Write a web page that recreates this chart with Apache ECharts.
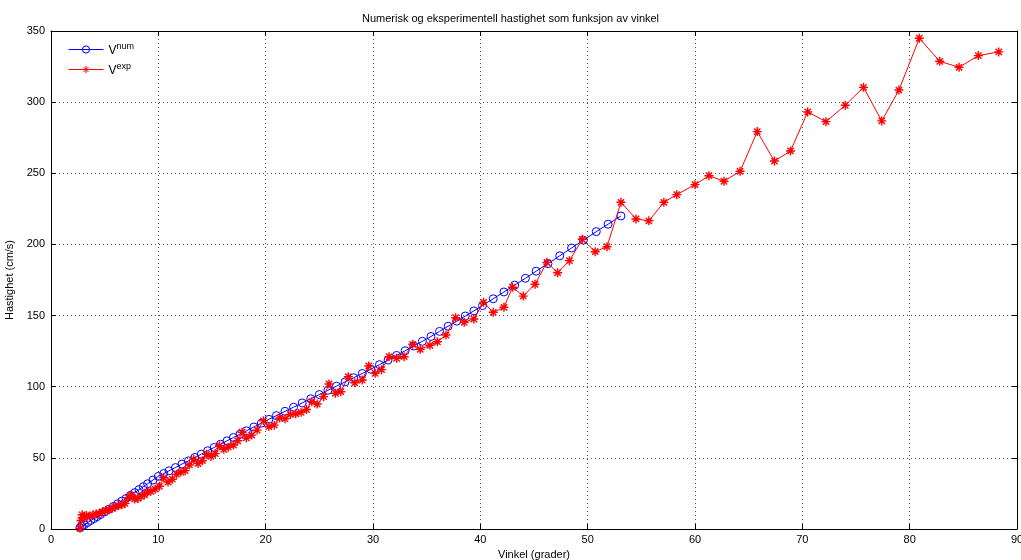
<!DOCTYPE html>
<html>
<head>
<meta charset="utf-8">
<script src="https://cdn.jsdelivr.net/npm/echarts@6/dist/echarts.min.js"></script>
<style>
	html, body { margin: 0; padding: 0; background: #fff; overflow: hidden; }
	#chart { width: 1021px; height: 560px; }
</style>
</head>
<body>
<div id="chart"></div>
<script>
var titleText = 'Numerisk og eksperimentell hastighet som funksjon av vinkel';
var xName = 'Vinkel (grader)';
var yName = 'Hastighet (cm/s)';

// numerisk (blå sirkler)
var numAngle = [2.7, 2.9, 3.1, 3.4, 3.7, 4.0, 4.3, 4.6, 5.0, 5.4, 5.8, 6.2, 6.6, 7.0, 7.4, 7.8, 8.2, 8.6, 9.0, 9.5,
	10.0, 10.5, 11.0, 11.6, 12.2, 12.8, 13.4, 14.0, 14.6, 15.2, 15.8, 16.4, 17.0, 17.6, 18.2, 18.9, 19.6, 20.3,
	21.0, 21.8, 22.6, 23.4, 24.2, 25.0, 25.8, 26.6, 27.4, 28.2, 29.0, 29.8, 30.6, 31.4, 32.2, 33.0, 33.8, 34.6,
	35.4, 36.2, 37.0, 37.8, 38.6, 39.4, 40.2, 41.2, 42.2, 43.2, 44.2, 45.2, 46.3, 47.4, 48.5, 49.6, 50.8, 51.9, 53.1];
var numSpeed = [1, 2, 3, 4.5, 6, 7.3, 8.7, 10.1, 12, 13.9, 15.8, 17.7, 19.6, 21.5, 23.6, 25.6, 27.7, 29.8, 31.8, 34.4,
	37, 39, 40.9, 43.2, 45.6, 47.9, 50.3, 52.6, 55, 57.3, 59.6, 62, 64.3, 66.6, 69, 71.7, 74.4, 77.1,
	79.7, 82.7, 85.6, 88.6, 91.5, 94.5, 97.5, 100.4, 103.4, 106.3, 109.3, 112.3, 115.5, 118.7, 122, 125.3, 128.6, 131.9,
	135.3, 138.9, 142.5, 146.1, 149.7, 153.3, 157, 161.8, 166.6, 171.4, 176.2, 181.2, 186.5, 192, 197.5, 203, 209, 214.2, 220];

// eksperimentell (røde stjerner)
var expAngle = [2.7, 2.8, 2.9, 3.1, 3.3, 3.6, 3.9, 4.2, 4.5, 4.8, 5.1, 5.4, 5.7, 6.0, 6.3, 6.6, 6.9, 7.2, 7.5, 7.8,
	8.1, 8.4, 8.7, 9.0, 9.3, 9.7, 10.1, 10.5, 10.9, 11.3, 11.7, 12.1, 12.5, 12.9, 13.3, 13.7, 14.1, 14.5, 14.9,
	15.3, 15.7, 16.1, 16.5, 17.0, 17.4, 17.8, 18.2, 18.7, 19.2, 19.8, 20.3, 20.8, 21.3, 21.8, 22.3, 22.8, 23.3,
	23.8, 24.3, 24.8, 25.4, 25.9, 26.5, 27.0, 27.7, 28.3, 29.0, 29.6, 30.2, 30.8, 31.5, 32.2, 32.9, 33.7, 34.4,
	35.3, 36.0, 36.8, 37.7, 38.5, 39.4, 40.3, 41.2, 42.2, 43.0, 44.0, 45.1, 46.2, 47.2, 48.3, 49.5, 50.7, 51.8,
	53.1, 54.5, 55.7, 57.1, 58.3, 60.0, 61.3, 62.7, 64.2, 65.8, 67.4, 68.9, 70.5, 72.2, 74.0, 75.7, 77.4, 79.0,
	80.9, 82.8, 84.6, 86.4, 88.3];
var expSpeed = [0.5, 6, 10, 8, 9.5, 9, 10, 10.5, 11, 12, 13, 13.5, 14.5, 15.5, 16.5, 17, 18, 22, 24, 21,
	21.5, 23, 24, 26, 26.5, 28, 30, 36, 33, 35, 38.5, 40, 41, 45, 49, 46, 48, 52.5, 51,
	53, 58.5, 56, 57.5, 59, 62, 68, 64, 66, 69.5, 76, 72, 73, 78, 77.5, 80.5, 81, 82,
	84, 89.5, 87.8, 93, 101.9, 95.4, 96.5, 107, 102.8, 104.7, 114.6, 109.4, 112, 121.1, 120, 121.1, 129.8, 126.3,
	129.1, 131.6, 136.3, 148.5, 145.3, 147.6, 159.3, 152.3, 155.8, 169.9, 163.7, 172, 187.4, 180.1, 188.6, 203.6, 194.9, 198.4,
	229.6, 217.9, 216.6, 229.6, 235, 242, 248.3, 244.4, 251.4, 279.3, 258.6, 265.7, 293.1, 286.3, 297.8, 310.4, 286.8, 308.5,
	344.9, 328.7, 324.5, 332.7, 335.3];

var starPath = 'path://M5 0L5 10M0 5L10 5M1.5 1.5L8.5 8.5M1.5 8.5L8.5 1.5';

function pairs(xs, ys) {
	var out = [];
	for (var i = 0; i < xs.length; i++) {
		out.push([xs[i], ys[i]]);
	}
	return out;
}

var chart = echarts.init(document.getElementById('chart'), null, { renderer: 'canvas' });
var font = 'Liberation Sans, Arial, sans-serif';

var frameAxis = {
	axisLine: { show: true, onZero: false, lineStyle: { color: '#000', width: 1 } },
	axisTick: { show: true, inside: true, length: 5, lineStyle: { color: '#000' } },
	axisLabel: { show: false },
	splitLine: { show: false }
};

option = {
	animation: false,
	backgroundColor: '#fff',
	title: {
		text: titleText,
		left: 'center',
		top: 8,
		textStyle: { fontFamily: font, fontSize: 11, fontWeight: 'normal', color: '#000' }
	},
	legend: {
		orient: 'vertical',
		left: 63,
		top: 37,
		itemWidth: 35,
		itemHeight: 9,
		itemGap: 5,
		data: ['num', 'exp'],
		lineStyle: { width: 1 },
		itemStyle: { borderWidth: 1 },
		formatter: function(name) {
			return '{b|V}{s|' + name + '}';
		},
		textStyle: {
			fontFamily: font,
			color: '#000',
			rich: {
				b: { fontSize: 12, fontFamily: font, color: '#000', verticalAlign: 'bottom' },
				s: { fontSize: 9, fontFamily: font, color: '#000', verticalAlign: 'bottom', padding: [0, 0, 6, 0] }
			}
		}
	},
	grid: {
		left: 51,
		right: 4,
		top: 31,
		bottom: 31,
		containLabel: false,
		outerBoundsMode: 'none'
	},
	xAxis: [{
		type: 'value',
		min: 0,
		max: 90,
		interval: 10,
		name: xName,
		nameLocation: 'middle',
		nameGap: 18,
		nameTextStyle: { fontFamily: font, fontSize: 11, color: '#000' },
		axisLine: { show: true, onZero: false, lineStyle: { color: '#000', width: 1 } },
		axisTick: { show: true, inside: true, length: 5, lineStyle: { color: '#000' } },
		axisLabel: { fontFamily: font, fontSize: 11, color: '#000', margin: 5 },
		splitLine: { show: true, lineStyle: { color: '#555', type: [1, 3], width: 1 } }
	}, Object.assign({
		type: 'value', position: 'top', min: 0, max: 90, interval: 10
	}, frameAxis)],
	yAxis: [{
		type: 'value',
		min: 0,
		max: 350,
		interval: 50,
		name: yName,
		nameLocation: 'middle',
		nameGap: 32,
		nameTextStyle: { fontFamily: font, fontSize: 11, color: '#000' },
		axisLine: { show: true, onZero: false, lineStyle: { color: '#000', width: 1 } },
		axisTick: { show: true, inside: true, length: 5, lineStyle: { color: '#000' } },
		axisLabel: { fontFamily: font, fontSize: 11, color: '#000', margin: 6 },
		splitLine: { show: true, lineStyle: { color: '#555', type: [1, 3], width: 1 } }
	}, Object.assign({
		type: 'value', position: 'right', min: 0, max: 350, interval: 50
	}, frameAxis)],
	series: [{
		name: 'num',
		type: 'line',
		data: pairs(numAngle, numSpeed),
		symbol: 'circle',
		symbolSize: 8,
		showAllSymbol: true,
		lineStyle: { color: '#0000ff', width: 1 },
		itemStyle: { color: 'rgba(0,0,0,0)', borderColor: '#0000ff', borderWidth: 1 },
		z: 2
	}, {
		name: 'exp',
		type: 'line',
		data: pairs(expAngle, expSpeed),
		symbol: starPath,
		symbolSize: 9,
		showAllSymbol: true,
		lineStyle: { color: '#ff0000', width: 1 },
		itemStyle: { color: '#ff0000', borderColor: '#ff0000', borderWidth: 1.4 },
		z: 3
	}]
};
chart.setOption(option);
</script>
</body>
</html>
